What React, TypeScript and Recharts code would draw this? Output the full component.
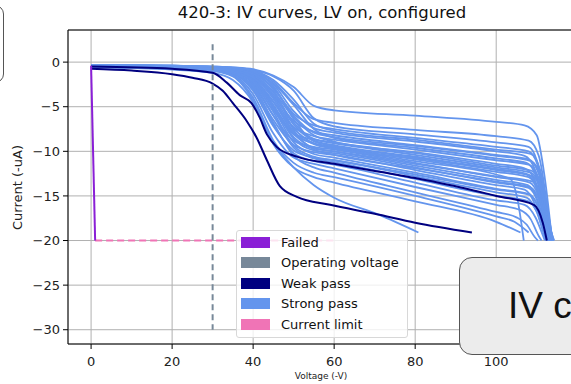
import React from 'react';
import { LineChart, Line, XAxis, YAxis, CartesianGrid, ReferenceLine } from 'recharts';

const kneeVoltages = [0, 20, 30, 35, 40, 45, 50, 55, 60, 80, 100];

// strong pass: current (-uA) at each knee voltage
const strongCurrents: number[][] = [
  [-0.3, -0.4, -0.5, -0.6, -0.8, -1.5, -2.8, -4.9, -5.4, -6.0, -6.7],
  [-0.35, -0.45, -0.55, -0.7, -1.0, -2.2, -4.6, -6.4, -6.8, -7.6, -8.3],
  [-0.3, -0.4, -0.5, -0.6, -0.9, -1.6, -3.2, -6.3, -7.2, -8.1, -9.0],
  [-0.4, -0.5, -0.6, -0.8, -1.3, -3.0, -5.8, -7.1, -7.5, -8.5, -9.5],
  [-0.3, -0.45, -0.6, -0.75, -1.1, -2.5, -5.5, -7.4, -7.9, -8.9, -10.0],
  [-0.4, -0.5, -0.65, -0.9, -1.6, -3.8, -6.6, -7.8, -8.2, -9.3, -10.4],
  [-0.35, -0.5, -0.6, -0.8, -1.2, -2.4, -4.8, -7.5, -8.5, -9.6, -10.8],
  [-0.4, -0.55, -0.7, -1.0, -1.9, -4.5, -7.3, -8.3, -8.7, -9.8, -11.0],
  [-0.3, -0.45, -0.6, -0.8, -1.4, -3.3, -6.2, -8.2, -8.9, -10.1, -11.4],
  [-0.45, -0.6, -0.75, -1.1, -2.3, -5.4, -8.0, -8.7, -9.1, -10.4, -11.8],
  [-0.35, -0.5, -0.65, -0.9, -1.6, -3.6, -7.0, -8.8, -9.3, -10.6, -12.0],
  [-0.4, -0.55, -0.7, -1.0, -2.0, -4.8, -8.1, -9.1, -9.5, -10.9, -12.3],
  [-0.3, -0.45, -0.6, -0.85, -1.5, -3.9, -7.4, -9.1, -9.6, -11.1, -12.6],
  [-0.45, -0.6, -0.8, -1.2, -2.6, -6.0, -8.8, -9.5, -9.8, -11.3, -12.9],
  [-0.4, -0.55, -0.7, -0.95, -1.8, -4.4, -8.0, -9.6, -10.0, -11.6, -13.2],
  [-0.35, -0.5, -0.65, -0.9, -1.7, -4.9, -8.6, -9.9, -10.2, -11.8, -13.5],
  [-0.45, -0.6, -0.8, -1.2, -2.8, -6.5, -9.3, -10.1, -10.4, -12.1, -13.8],
  [-0.4, -0.55, -0.75, -1.05, -2.1, -5.2, -9.0, -10.3, -10.7, -12.4, -14.2],
  [-0.5, -0.65, -0.85, -1.3, -3.2, -7.2, -9.9, -10.7, -11.0, -12.8, -14.6],
  [-0.4, -0.55, -0.75, -1.1, -2.4, -6.0, -9.6, -10.8, -11.2, -13.1, -15.0],
  [-0.45, -0.6, -0.8, -1.25, -3.0, -7.0, -10.2, -11.1, -11.5, -13.5, -15.5],
  [-0.5, -0.7, -0.9, -1.4, -3.6, -8.0, -10.7, -11.4, -11.9, -14.0, -16.0],
  [-0.45, -0.6, -0.8, -1.2, -2.7, -6.8, -10.5, -11.8, -12.4, -14.6, -16.8],
  [-0.5, -0.7, -0.95, -1.5, -4.0, -8.8, -11.3, -12.4, -12.9, -15.0, -17.3],
  [-0.55, -0.75, -1.0, -1.6, -4.3, -9.2, -11.8, -12.9, -13.5, -15.6, -17.9],
  [-0.6, -0.85, -1.2, -2.0, -4.5, -9.0, -11.8, -13.8, -15.2],
  [-0.35, -0.45, -0.6, -0.75, -1.2, -2.9, -6.0, -7.9, -8.4, -9.4, -10.5],
  [-0.4, -0.5, -0.65, -0.85, -1.5, -3.4, -6.8, -8.6, -9.0, -10.2, -11.6],
  [-0.3, -0.4, -0.55, -0.7, -1.1, -2.7, -6.4, -8.9, -9.4, -10.7, -12.1],
  [-0.45, -0.55, -0.7, -1.0, -2.0, -5.0, -8.4, -9.7, -10.0, -11.4, -12.8],
  [-0.35, -0.5, -0.6, -0.8, -1.3, -3.1, -7.6, -9.8, -10.4, -11.9, -13.4],
  [-0.4, -0.55, -0.7, -0.95, -1.7, -4.1, -7.8, -9.2, -9.7, -10.8, -12.0],
  [-0.3, -0.4, -0.5, -0.65, -0.95, -2.0, -4.2, -6.9, -7.7, -8.7, -9.8],
  [-0.45, -0.6, -0.75, -1.05, -2.2, -5.6, -9.4, -10.6, -11.0, -12.6, -14.3],
];

// strong pass: end of each sweep (voltage, current) after the knee points
const strongTails: number[][][] = [
  [[107, -7.1], [110, -8.2], [112, -13], [113.8, -20]],
  [[108, -8.8], [110.5, -10.5], [112.5, -16], [113.5, -20]],
  [[108, -9.5], [110, -11], [112, -16], [113, -20]],
  [[108, -10], [110.2, -11.5], [112.2, -16.5], [113.2, -20]],
  [[107, -10.5], [109.5, -12], [111.5, -16.5], [112.8, -20]],
  [[108, -10.9], [110.5, -12.5], [112.5, -17], [113.6, -20]],
  [[107.5, -11.3], [110, -13], [112, -17], [113, -20]],
  [[108, -11.5], [110.5, -13], [112.3, -17.5], [113.4, -20]],
  [[107, -11.9], [109.8, -13.5], [111.8, -17.5], [112.6, -20]],
  [[108.5, -12.4], [110.8, -14], [112.7, -18], [113.8, -20]],
  [[107.5, -12.6], [110, -14.2], [112, -18], [112.9, -20]],
  [[108, -12.9], [110.3, -14.5], [112.2, -18], [113.1, -20]],
  [[103.5, -13.1], [105.3, -15.5], [106.8, -20]],
  [[108.3, -13.5], [110.6, -15.2], [112.5, -18.5], [113.5, -20]],
  [[107.8, -13.8], [110.2, -15.5], [112, -18.5], [112.8, -20]],
  [[108, -14.1], [110.4, -15.8], [112.3, -18.8], [113.2, -20]],
  [[107, -14.3], [109.6, -16], [111.6, -19], [112.3, -20]],
  [[108.2, -14.8], [110.5, -16.4], [112.4, -19], [113, -20]],
  [[107.5, -15.2], [110, -16.8], [111.8, -19.2], [112.5, -20]],
  [[108, -15.6], [110.6, -17.2], [112.6, -19.4], [113.3, -20]],
  [[107, -16], [109.8, -17.5], [111.5, -19.4], [112, -20]],
  [[106, -16.6], [108.5, -17.6], [110.5, -19.5], [111.2, -20]],
  [[105, -17.4], [107.5, -18.2], [109.5, -19.6], [110.3, -20]],
  [[104.5, -17.9], [108, -19.1]],
  [[106, -19.1]],
  [[71, -17.1], [80.8, -19.1]],
  [[108.6, -11.1], [111, -12.8], [112.8, -17], [114, -20]],
  [[108.8, -12.2], [111.2, -14], [113, -18], [114.2, -20]],
  [[109, -12.8], [111.4, -14.8], [113.2, -18.5], [114.3, -20]],
  [[109, -13.4], [111.3, -15.5], [113, -19], [113.9, -20]],
  [[108.7, -14.1], [111, -16], [112.8, -19], [113.6, -20]],
  [[108, -12.6], [110.3, -14.3], [112.1, -18], [113, -20]],
  [[108.5, -10.3], [110.8, -12], [112.7, -16.5], [113.9, -20]],
  [[108.4, -14.9], [110.8, -16.6], [112.7, -19.3], [113.5, -20]],
];

// weak pass sweeps (voltage, current)
const weakA = [
  [0, -0.75], [10, -0.95], [20, -1.35], [25, -1.75], [30, -2.4], [32.5, -3.2], [35, -4.6],
  [38.4, -6.6], [40.9, -8.5], [43.4, -11.0], [46.6, -13.9], [50.8, -15.1], [59, -16.0],
  [70, -17.0], [80, -18.0], [94, -19.1],
];
const weakB = [
  [0, -0.5], [20, -0.75], [30, -1.2], [33.5, -2.3], [36.7, -3.7], [39.6, -4.6], [41.6, -6.2],
  [43.4, -8.1], [45.8, -9.5], [50.8, -10.6], [60, -11.4], [80, -13.0], [93.7, -14.3],
  [100, -15.0], [109.3, -16.0], [111.5, -18], [112.5, -20],
];

// failed sweep, operating voltage marker, current limit
const failed = [[0, -0.4], [1, -20]];
const operatingVoltage = [[30, 2], [30, -30]];
const currentLimit = [[1, -20], [60, -20]];

const xTicks = [0, 20, 40, 60, 80, 100];
const yTicks = [0, -5, -10, -15, -20, -25, -30];

const legendItems = [
  { label: 'Failed', color: '#8a1fd6' },
  { label: 'Operating voltage', color: '#778899' },
  { label: 'Weak pass', color: '#000080' },
  { label: 'Strong pass', color: '#6495ed' },
  { label: 'Current limit', color: '#f074b6' },
];

const toPts = (arr: number[][]) => arr.map(([v, i]) => ({ v, i }));
const strongSeries = strongCurrents.map((cur, k) => [
  ...cur.map((i, j) => ({ v: kneeVoltages[j], i })),
  ...toPts(strongTails[k]),
]);

const FONT = '"DejaVu Sans", sans-serif';
const fmt = (t: number) => (t < 0 ? '\u2212' + Math.abs(t) : String(t));

export default function App() {
  return (
    <div style={{ position: 'fixed', left: 0, top: 0, width: 571, height: 384, overflow: 'hidden', background: '#fff', fontFamily: FONT }}>
      <div style={{ position: 'absolute', left: 0, top: 3, width: 644, textAlign: 'center', fontSize: 16.5, color: '#111' }}>
        420-3: IV curves, LV on, configured
      </div>
      <LineChart width={600} height={384} margin={{ top: 30, right: 24, bottom: 10, left: 0 }}>
        <CartesianGrid stroke="#b0b0b0" strokeWidth={1} />
        <XAxis
          type="number"
          dataKey="v"
          domain={[-5.7, 119.7]}
          ticks={xTicks}
          allowDataOverflow
          tickFormatter={fmt}
          height={30}
          stroke="#000"
          tickSize={5}
          tickMargin={8}
          tick={{ fill: '#222', fontSize: 13, fontFamily: FONT }}
        />
        <YAxis
          type="number"
          dataKey="i"
          domain={[-31.6, 3.6]}
          ticks={yTicks}
          allowDataOverflow
          tickFormatter={fmt}
          width={68}
          stroke="#000"
          tickSize={5}
          tickMargin={3}
          tick={{ fill: '#222', fontSize: 13, fontFamily: FONT }}
        />
        <ReferenceLine y={3.6} stroke="#000" strokeWidth={1} />
        {strongSeries.map((d, k) => (
          <Line key={'s' + k} data={d} dataKey="i" type="monotone" stroke="#6495ed" strokeWidth={1.8} dot={false} activeDot={false} isAnimationActive={false} />
        ))}
        <Line data={toPts(weakA)} dataKey="i" type="monotone" stroke="#000080" strokeWidth={2} dot={false} activeDot={false} isAnimationActive={false} />
        <Line data={toPts(weakB)} dataKey="i" type="monotone" stroke="#000080" strokeWidth={2} dot={false} activeDot={false} isAnimationActive={false} />
        <Line data={toPts(currentLimit)} dataKey="i" type="linear" stroke="#f074b6" strokeWidth={2} strokeDasharray="7 4" dot={false} activeDot={false} isAnimationActive={false} />
        <Line data={toPts(failed)} dataKey="i" type="linear" stroke="#8a1fd6" strokeWidth={2} dot={false} activeDot={false} isAnimationActive={false} />
        <Line data={toPts(operatingVoltage)} dataKey="i" type="linear" stroke="#778899" strokeWidth={2} strokeDasharray="6 4" dot={false} activeDot={false} isAnimationActive={false} />
      </LineChart>
      <div style={{ position: 'absolute', left: 2, top: 135, width: 30, height: 105, display: 'flex', alignItems: 'center', justifyContent: 'center' }}>
        <div style={{ transform: 'rotate(-90deg)', whiteSpace: 'nowrap', fontSize: 13, color: '#222' }}>Current (-uA)</div>
      </div>
      <div style={{ position: 'absolute', left: 271, top: 371, width: 100, textAlign: 'center', fontSize: 9, color: '#222' }}>Voltage (-V)</div>
      <div style={{ position: 'absolute', left: 236, top: 230, width: 172, height: 108, boxSizing: 'border-box', background: 'rgba(255,255,255,0.8)', border: '1px solid #d8d8d8', borderRadius: 3, padding: '1px 0 0 4px' }}>
        {legendItems.map((it) => (
          <div key={it.label} style={{ display: 'flex', alignItems: 'center', height: 20.5 }}>
            <span style={{ display: 'inline-block', width: 29, height: 11, background: it.color, marginRight: 11 }} />
            <span style={{ fontSize: 13, color: '#111', whiteSpace: 'nowrap' }}>{it.label}</span>
          </div>
        ))}
      </div>
      <div style={{ position: 'absolute', left: -100, top: 5, width: 102, height: 76, border: '1.5px solid #555', borderRadius: 9, background: '#fff' }} />
      <div style={{ position: 'absolute', left: 459, top: 257, width: 200, height: 98, boxSizing: 'border-box', border: '1.5px solid #555', borderRadius: 13, background: '#ececec', display: 'flex', alignItems: 'center' }}>
        <span style={{ marginLeft: 48, fontSize: 37, color: '#111', fontFamily: '"Liberation Sans", Arial, sans-serif' }}>IV c</span>
      </div>
    </div>
  );
}
